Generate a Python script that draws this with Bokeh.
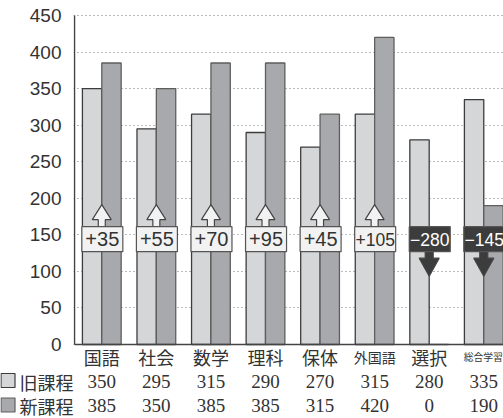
from bokeh.plotting import figure
from bokeh.layouts import column
from bokeh.models import ColumnDataSource, FixedTicker, Range1d
from bokeh.core.properties import value
from bokeh.embed import file_html
from bokeh.resources import INLINE

# ---- data ----
categories = ["国語", "社会", "数学", "理科", "保体", "外国語", "選択", "総合学習"]
old_hours = [350, 295, 315, 290, 270, 315, 280, 335]
new_hours = [385, 350, 385, 385, 315, 420, 0, 190]
series_names = ["旧課程", "新課程"]
y_ticks = [0, 50, 100, 150, 200, 250, 300, 350, 400, 450]

# ---- styles / layout ----
W = 503
HC = 369          # chart figure height (includes category labels)
HT = 49           # table figure height
FL = 73           # frame left
TOP = 14
Y_END = 450
ZERO_PX = 344     # canvas y of value 0
uy = Y_END / 329.0                  # data units per pixel (y)
ux = 1 / 54.57                      # data units per pixel (x)
X0 = -0.5 - 1 * ux
X1 = X0 + (W - FL) * ux

OLD_COLOR = "#d5d6d8"
NEW_COLOR = "#a8a9ad"
TXT = "#333333"
AXIS = "#444444"
BAR_W = 0.355
cat_sizes = ["18px", "18px", "18px", "18px", "18px", "14px", "18px", "9.8px"]
cat_shift = [0, 0, 0, 0, 0, 0, 0, -0.01]

n = len(categories)
xs = list(range(n))

p = figure(width=W, height=HC, x_range=Range1d(X0, X1),
           y_range=Range1d(-(HC - ZERO_PX) * uy, Y_END + 1 * uy),
           output_backend="svg", toolbar_location=None, x_axis_location=None,
           min_border_left=FL, min_border_right=0, min_border_top=TOP,
           min_border_bottom=0)
p.frame_align = False
p.outline_line_color = None

bars = ColumnDataSource(dict(x_old=[x - BAR_W / 2 for x in xs], x_new=[x + BAR_W / 2 for x in xs],
                             old=old_hours, new=new_hours))
p.vbar(x="x_old", top="old", bottom=0, width=BAR_W, source=bars,
       fill_color=OLD_COLOR, line_color="#3c3c3c", line_width=1.3)
p.vbar(x="x_new", top="new", bottom=0, width=BAR_W, source=bars,
       fill_color=NEW_COLOR, line_color="#5e5e5e", line_width=1.3)

p.yaxis.ticker = FixedTicker(ticks=y_ticks)
p.yaxis.major_tick_line_color = None
p.yaxis.minor_tick_line_color = None
p.yaxis.major_label_standoff = 6
p.yaxis.major_label_text_font = "Liberation Sans"
p.yaxis.major_label_text_font_size = "19px"
p.yaxis.major_label_text_color = TXT
p.yaxis.axis_line_color = None

p.xgrid.grid_line_color = None
p.ygrid.grid_line_color = "#777777"
p.ygrid.grid_line_dash = "1 3"
p.ygrid.grid_line_width = 1

# axis lines (y axis line limited to the value range)
p.segment(x0=[-0.5], y0=[0], x1=[-0.5], y1=[Y_END], line_color=AXIS, line_width=1.5)
p.segment(x0=[-0.5], y0=[0], x1=[X1], y1=[0], line_color=AXIS, line_width=1.5)

# ---- change boxes and arrows ----
diffs = [b - a for a, b in zip(old_hours, new_hours)]
labels = [("+" if d > 0 else "\u2212") + str(abs(d)) for d in diffs]
label_sizes = ["20px" if len(t) <= 3 else "17.5px" for t in labels]
box_y = 150 - 4.3 * uy
box_top = box_y + 12.5 * uy
box_bot = box_y - 12 * uy

arr_xs, arr_ys, arr_fill = [], [], []
for x, d in zip(xs, diffs):
    if d > 0:
        pts = [(0, -22), (9.5, -7), (3.5, -7), (3.5, 0), (-3.5, 0), (-3.5, -7), (-9.5, -7)]
        arr_ys.append([box_top - dy * uy for dx, dy in pts])
        arr_fill.append("#f2f2f2")
    else:
        pts = [(0, 25), (10, 7), (4, 7), (4, 0), (-4, 0), (-4, 7), (-10, 7)]
        arr_ys.append([box_bot - dy * uy for dx, dy in pts])
        arr_fill.append("#3c3c3c")
    arr_xs.append([x + dx * ux for dx, dy in pts])

p.patches(xs=arr_xs, ys=arr_ys, fill_color=arr_fill, line_color=AXIS, line_width=1.2)

box_src = ColumnDataSource(dict(
    x=[x + 0.01 for x in xs], y=[box_y] * n, text=labels, size=label_sizes,
    fill=["#f2f2f2" if d > 0 else "#3c3c3c" for d in diffs],
    tcol=[TXT if d > 0 else "white" for d in diffs]))
p.rect(x="x", y="y", width=41, height=25, width_units="screen", height_units="screen",
       source=box_src, fill_color="fill", line_color="#555555", line_width=1.2)
p.text(x="x", y="y", text="text", source=box_src, text_align="center", text_baseline="middle",
       text_font=value("Liberation Sans"), text_font_size="size", text_color="tcol")

# category labels under the baseline
p.text(x=[x + s for x, s in zip(xs, cat_shift)], y=[-12.5 * uy] * n, text=categories,
       text_align="center", text_baseline="middle",
       text_font=value("Noto Sans CJK JP"), text_font_size=cat_sizes, text_color=TXT)

# ---- table below the chart ----
t = figure(width=W, height=HT, x_range=Range1d(X0 - FL * ux, X1), y_range=Range1d(HT, 0),
           output_backend="svg", toolbar_location=None,
           x_axis_location=None, y_axis_location=None,
           min_border_left=0, min_border_right=0, min_border_top=0, min_border_bottom=0)
t.frame_align = False
t.outline_line_color = None
t.grid.visible = False

t.text(x=xs, y=[11.5] * n, text=[str(v) for v in old_hours], text_align="center",
       text_baseline="middle", text_font=value("Liberation Serif"), text_font_size="19px",
       text_color=TXT)
t.text(x=xs, y=[36] * n, text=[str(v) for v in new_hours], text_align="center",
       text_baseline="middle", text_font=value("Liberation Serif"), text_font_size="19px",
       text_color=TXT)

lx = X0 - FL * ux
t.rect(x=[lx + 7.5 * ux] * 2, y=[11, 35.5], width=14, height=14,
       width_units="screen", height_units="screen",
       fill_color=[OLD_COLOR, NEW_COLOR], line_color=["#3c3c3c", "#5e5e5e"], line_width=1.2)
t.text(x=[lx + 19 * ux] * 2, y=[12.5, 36], text=series_names, text_align="left",
       text_baseline="middle", text_font=value("Noto Sans CJK JP"), text_font_size="18px",
       text_color=TXT)

layout = column(p, t, spacing=0)
open("out.html", "w").write(file_html(layout, INLINE))
